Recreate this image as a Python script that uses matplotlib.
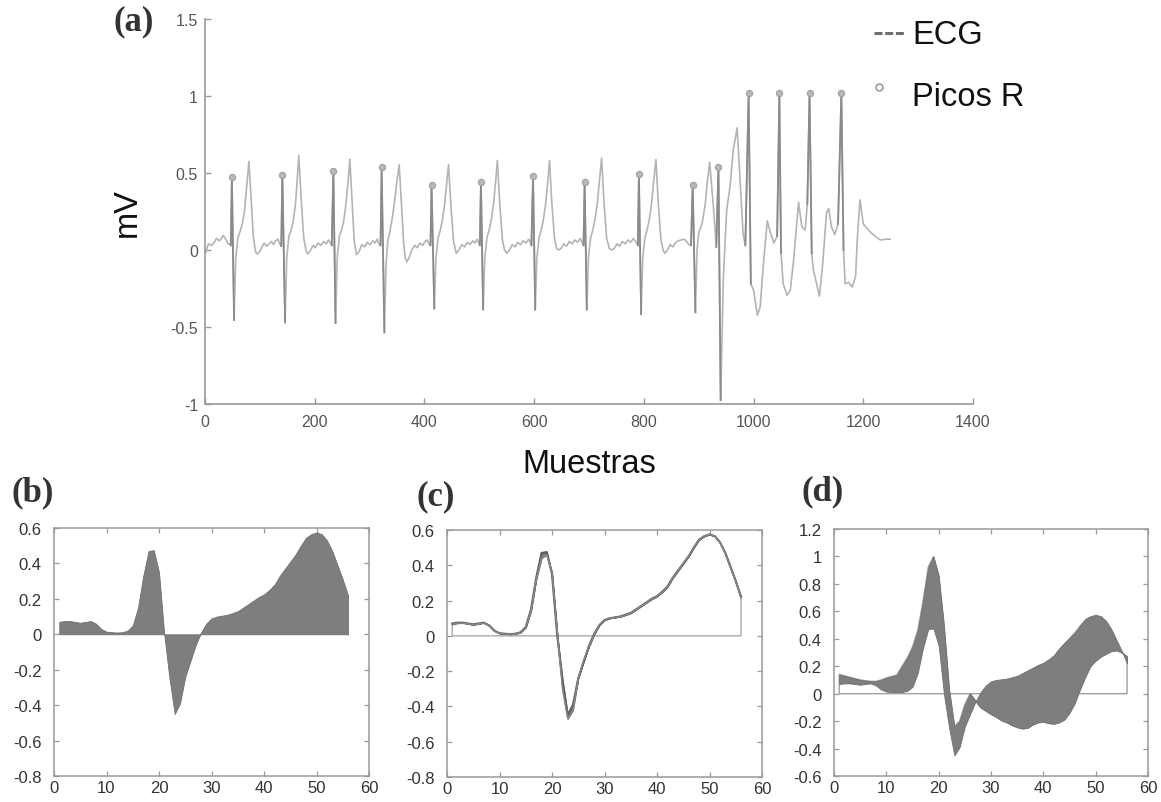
import matplotlib
matplotlib.use("Agg")
import matplotlib.pyplot as plt
from matplotlib.lines import Line2D
from matplotlib.ticker import FuncFormatter

W, H = 1161, 803

# ---------------- ECG record (sample index, mV) ----------------
ecg_samples = [
    1, 6, 12, 16, 21, 26, 29, 33, 38, 42, 45, 47,
    49, 53, 56, 60, 64, 68, 72, 76, 80, 84, 88, 92, 95, 100, 104, 108, 112, 117, 121, 125, 129, 133, 136, 139,
    141, 146, 149, 153, 157, 161, 165, 168, 171, 175, 180, 184, 187, 192, 197, 201, 206, 211, 216, 221, 225, 228, 231,
    234, 238, 241, 245, 249, 253, 257, 261, 264, 268, 272, 276, 281, 286, 291, 296, 301, 306, 310, 314, 317, 320,
    322, 327, 330, 333, 337, 341, 345, 350, 354, 358, 362, 365, 368, 372, 377, 382, 387, 392, 397, 401, 405, 408, 411,
    413, 418, 421, 425, 429, 433, 437, 441, 444, 448, 453, 458, 463, 468, 473, 478, 483, 488, 492, 496, 499, 501,
    503, 507, 510, 514, 518, 522, 526, 530, 533, 537, 542, 546, 550, 555, 560, 565, 570, 575, 580, 585, 590, 593, 595,
    598, 602, 605, 609, 613, 617, 621, 625, 628, 632, 637, 641, 644, 649, 654, 659, 664, 669, 674, 679, 684, 687, 690,
    692, 696, 699, 703, 707, 711, 715, 719, 723, 727, 732, 737, 741, 746, 751, 756, 761, 766, 771, 776, 781, 785, 789,
    791, 795, 798, 802, 806, 810, 814, 818, 822, 826, 831, 835, 838, 843, 848, 853, 858, 863, 868, 873, 878, 882, 886,
    889, 894, 897, 900, 906, 912, 916, 920, 924, 928, 932,
    936, 940, 945, 951, 957, 963, 970, 975, 981, 985,
    991, 995, 1000, 1007, 1012, 1018, 1025, 1031, 1037, 1043,
    1047, 1050, 1054, 1061, 1067, 1073, 1082, 1088, 1094, 1098,
    1102, 1106, 1109, 1115, 1120, 1126, 1133, 1137, 1142, 1148, 1154,
    1160, 1164, 1167, 1173, 1180, 1186, 1189, 1194, 1200, 1209, 1218, 1231, 1240, 1249,
]
ecg_mv = [
    -0.02, 0.04, 0.03, 0.045, 0.075, 0.06, 0.07, 0.095, 0.07, 0.04, 0.04, 0.03,
    0.473, -0.455, -0.05, 0.08, 0.12, 0.17, 0.25, 0.41, 0.575, 0.34, 0.09, -0.01, -0.026, -0.01, 0.02, 0.045, 0.025, 0.04, 0.055, 0.035, 0.06, 0.07, 0.04, 0.025,
    0.489, -0.47, -0.05, 0.09, 0.13, 0.19, 0.30, 0.45, 0.613, 0.35, 0.08, 0.0, -0.026, -0.005, 0.03, 0.015, 0.045, 0.03, 0.055, 0.04, 0.065, 0.05, 0.03,
    0.51, -0.475, -0.05, 0.09, 0.13, 0.19, 0.30, 0.45, 0.59, 0.33, 0.06, -0.03, -0.01, 0.035, 0.02, 0.05, 0.035, 0.06, 0.045, 0.07, 0.04, 0.03,
    0.538, -0.535, -0.10, 0.05, 0.12, 0.20, 0.30, 0.45, 0.554, 0.30, 0.05, -0.05, -0.077, -0.05, 0.0, 0.03, 0.015, 0.045, 0.03, 0.055, 0.065, 0.04, 0.03,
    0.42, -0.38, -0.05, 0.08, 0.13, 0.20, 0.30, 0.45, 0.554, 0.30, 0.06, -0.022, 0.0, 0.035, 0.02, 0.05, 0.035, 0.06, 0.045, 0.07, 0.045, 0.03,
    0.44, -0.387, -0.05, 0.08, 0.13, 0.20, 0.30, 0.45, 0.582, 0.32, 0.07, 0.0, -0.022, 0.0, 0.035, 0.02, 0.05, 0.035, 0.06, 0.045, 0.07, 0.05, 0.03,
    0.478, -0.387, -0.05, 0.08, 0.13, 0.20, 0.30, 0.45, 0.582, 0.32, 0.08, 0.01, 0.0, 0.01, 0.04, 0.025, 0.055, 0.04, 0.065, 0.05, 0.075, 0.05, 0.03,
    0.44, -0.387, -0.05, 0.08, 0.13, 0.20, 0.30, 0.45, 0.597, 0.33, 0.08, 0.01, 0.0, 0.01, 0.04, 0.025, 0.055, 0.04, 0.065, 0.05, 0.075, 0.055, 0.03,
    0.493, -0.417, -0.05, 0.08, 0.13, 0.20, 0.30, 0.45, 0.587, 0.32, 0.07, 0.0, -0.022, 0.0, 0.035, 0.02, 0.05, 0.06, 0.065, 0.07, 0.055, 0.035, 0.03,
    0.424, -0.405, 0.0, 0.11, 0.17, 0.30, 0.45, 0.57, 0.40, 0.22, 0.02,
    0.538, -0.975, -0.17, 0.26, 0.41, 0.65, 0.793, 0.48, 0.10, 0.03,
    1.02, -0.22, -0.26, -0.424, -0.37, -0.09, 0.19, 0.11, 0.045, 0.09,
    1.02, -0.02, -0.22, -0.294, -0.26, -0.065, 0.31, 0.15, 0.13, 0.30,
    1.02, -0.02, -0.13, -0.22, -0.30, -0.09, 0.24, 0.27, 0.15, 0.10, 0.17,
    1.02, 0.0, -0.22, -0.21, -0.24, -0.17, 0.065, 0.326, 0.17, 0.13, 0.10, 0.065, 0.07, 0.07,
]

# detected R peaks
r_samples = [49, 141, 234, 322, 413, 503, 598, 692, 791, 889, 936, 991, 1047, 1102, 1160]
r_mv = [0.473, 0.489, 0.51, 0.538, 0.42, 0.44, 0.478, 0.44, 0.493, 0.424, 0.538, 1.02, 1.02, 1.02, 1.02]

top_xticks = [0, 200, 400, 600, 800, 1000, 1200, 1400]
top_yticks = [-1, -0.5, 0, 0.5, 1, 1.5]

# ---------------- single-beat windows ----------------
beat_x = list(range(1, 57))
template_mv = [
    0.07, 0.075, 0.075, 0.07, 0.065, 0.07, 0.075, 0.06, 0.03, 0.015,
    0.012, 0.01, 0.012, 0.02, 0.05, 0.15, 0.33, 0.47, 0.475, 0.35,
    0.0, -0.25, -0.45, -0.39, -0.24, -0.15, -0.06, 0.01, 0.06, 0.09,
    0.10, 0.105, 0.11, 0.12, 0.13, 0.15, 0.17, 0.19, 0.21, 0.225,
    0.25, 0.28, 0.33, 0.37, 0.41, 0.45, 0.50, 0.545, 0.565, 0.575,
    0.565, 0.53, 0.47, 0.39, 0.31, 0.22,
]
beat_c_mv = [
    0.065, 0.072, 0.073, 0.068, 0.062, 0.068, 0.073, 0.058, 0.028, 0.014,
    0.011, 0.009, 0.011, 0.019, 0.048, 0.14, 0.32, 0.44, 0.46, 0.36,
    0.02, -0.30, -0.47, -0.42, -0.24, -0.14, -0.065, 0.005, 0.06, 0.088,
    0.10, 0.104, 0.108, 0.118, 0.128, 0.148, 0.168, 0.188, 0.208, 0.224,
    0.248, 0.278, 0.328, 0.368, 0.41, 0.45, 0.50, 0.545, 0.565, 0.575,
    0.565, 0.53, 0.47, 0.39, 0.31, 0.22,
]
beat_d_mv = [
    0.14, 0.13, 0.12, 0.11, 0.10, 0.095, 0.09, 0.09, 0.10, 0.115,
    0.125, 0.135, 0.20, 0.26, 0.34, 0.46, 0.67, 0.92, 1.0, 0.86,
    0.50, 0.03, -0.24, -0.20, -0.08, 0.0, -0.05, -0.10, -0.125, -0.15,
    -0.17, -0.195, -0.21, -0.23, -0.245, -0.255, -0.25, -0.225, -0.21, -0.205,
    -0.215, -0.22, -0.21, -0.19, -0.14, -0.07, 0.03, 0.12, 0.20, 0.24,
    0.27, 0.29, 0.31, 0.315, 0.30, 0.27,
]
small_xticks = [0, 10, 20, 30, 40, 50, 60]
b_yticks = [-0.8, -0.6, -0.4, -0.2, 0, 0.2, 0.4, 0.6]
d_yticks = [-0.6, -0.4, -0.2, 0, 0.2, 0.4, 0.6, 0.8, 1, 1.2]

# ---------------- styling ----------------
TICK_FONT = ["Liberation Sans Narrow", "Liberation Sans"]
LABEL_FONT = ["Liberation Sans", "DejaVu Sans"]
PANEL_FONT = ["Liberation Serif", "DejaVu Serif"]
SPINE = "#9a9a9a"
FILL = "#7e7e7e"

fmt = FuncFormatter(lambda v, p: f"{round(v, 2):g}")


def box(left, top, right, bottom):
    return [left / W, 1 - bottom / H, (right - left) / W, (bottom - top) / H]


def fx(px):
    return px / W


def fy(py):
    return 1 - py / H


fig = plt.figure(figsize=(W / 100, H / 100), dpi=100, facecolor="white")

# ---------------- (a) ECG with R peaks ----------------
ax = fig.add_axes(box(205, 20, 973, 405))
ax.plot(ecg_samples, ecg_mv, color="#b4b4b4", lw=1.2, zorder=2, solid_joinstyle="round")
for r in r_samples:
    i = ecg_samples.index(r)
    ax.plot(ecg_samples[i - 1:i + 2], ecg_mv[i - 1:i + 2], color="#8a8a8a", lw=1.3, zorder=3)
ax.plot(r_samples, r_mv, "o", ms=4.5, mfc="#b8b8b8", mec="#a0a0a0", mew=0.8, zorder=4)
ax.set_xlim(0, 1400)
ax.set_ylim(-1, 1.5)
ax.set_xticks(top_xticks)
ax.set_yticks(top_yticks)
ax.xaxis.set_major_formatter(fmt)
ax.yaxis.set_major_formatter(fmt)
for s in ("top", "right"):
    ax.spines[s].set_visible(False)
for s in ("left", "bottom"):
    ax.spines[s].set_color(SPINE)
    ax.spines[s].set_linewidth(1.2)
ax.tick_params(direction="in", length=4, width=1, color=SPINE, labelsize=11.5, labelcolor="#555555")
ax.tick_params(axis="x", pad=7)
ax.tick_params(axis="y", pad=5)
for lab in ax.get_xticklabels() + ax.get_yticklabels():
    lab.set_family(TICK_FONT)
ax.set_xlabel("Muestras", family=LABEL_FONT, fontsize=23.5, color="#111111", labelpad=14)
ax.set_ylabel("mV", family=LABEL_FONT, fontsize=23.5, color="#111111", labelpad=20)

# legend drawn beside the trace
fig.add_artist(Line2D([fx(874), fx(904)], [fy(34), fy(34)], color="#6e6e6e", lw=2.2,
                      dashes=(2.6, 0.9), transform=fig.transFigure))
fig.add_artist(Line2D([fx(879)], [fy(88)], marker="o", ms=5, mfc="none", mec="#8a8a8a",
                      mew=1.0, lw=0, transform=fig.transFigure))
fig.text(fx(912), fy(35), "ECG", family=LABEL_FONT, fontsize=23.5, color="#111111", va="center", ha="left")
fig.text(fx(912), fy(98), "Picos R", family=LABEL_FONT, fontsize=23.5, color="#111111", va="center", ha="left")


def small_axes(rect, ylo, yhi, yticks):
    a = fig.add_axes(rect)
    a.set_xlim(0, 60)
    a.set_ylim(ylo, yhi)
    a.set_xticks(small_xticks)
    a.set_yticks(yticks)
    a.xaxis.set_major_formatter(fmt)
    a.yaxis.set_major_formatter(fmt)
    for s in a.spines.values():
        s.set_color(SPINE)
        s.set_linewidth(1.1)
    a.tick_params(direction="in", top=True, right=True, length=3.5, width=0.9, color=SPINE,
                  labelsize=12, labelcolor="#333333")
    a.tick_params(axis="x", pad=3)
    a.tick_params(axis="y", pad=9)
    for lab in a.get_xticklabels() + a.get_yticklabels():
        lab.set_family(TICK_FONT)
    return a


# ---------------- (b) template beat ----------------
axb = small_axes(box(54, 529, 369, 777), -0.8, 0.6, b_yticks)
axb.fill_between(beat_x, template_mv, 0, color=FILL, lw=0.6, edgecolor="#707070", zorder=2)

# ---------------- (c) matching beat ----------------
axc = small_axes(box(447, 531, 762, 778), -0.8, 0.6, b_yticks)
axc.fill(beat_x + [beat_x[-1], beat_x[0]], beat_c_mv + [0, 0], facecolor="none",
         edgecolor="#a8a8a8", lw=1.0, zorder=2)
axc.fill_between(beat_x, template_mv, beat_c_mv, color=FILL, lw=0.8, edgecolor="#6a6a6a", zorder=3)
axc.plot(beat_x, template_mv, color="#5e5e5e", lw=1.5, zorder=4)
axc.plot(beat_x, beat_c_mv, color="#8a8a8a", lw=1.0, zorder=4)

# ---------------- (d) non-matching beat ----------------
axd = small_axes(box(834, 530, 1148, 777), -0.6, 1.2, d_yticks)
axd.fill(beat_x + [beat_x[-1], beat_x[0]], beat_d_mv + [0, 0], facecolor="none",
         edgecolor="#a0a0a0", lw=1.0, zorder=2)
axd.fill_between(beat_x, template_mv, beat_d_mv, color=FILL, lw=0.6, edgecolor="#707070", zorder=3)

# panel letters
for txt, x, y in (("(a)", 134, 22), ("(b)", 33, 493), ("(c)", 436, 497), ("(d)", 823, 492)):
    fig.text(fx(x), fy(y), txt, family=PANEL_FONT, fontweight="bold", fontsize=25,
             color="#333333", ha="center", va="center")

fig.savefig("out.png", dpi=100, facecolor="white")
